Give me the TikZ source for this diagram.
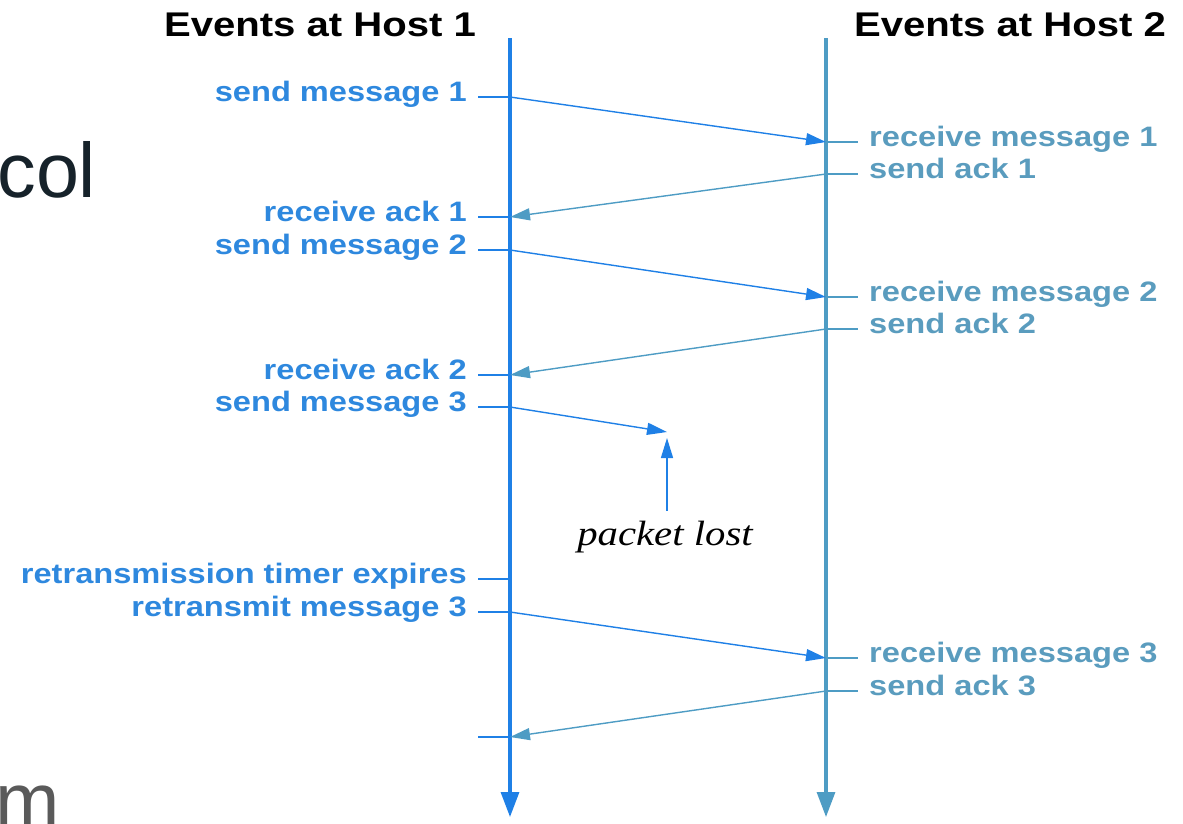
\documentclass[tikz,border=0pt]{standalone}
\usepackage{fontspec}
\setmainfont{Liberation Sans}
\newfontfamily\lostfont{Liberation Serif}
\usetikzlibrary{arrows.meta}

\definecolor{clrone}{HTML}{1F80E6}
\definecolor{clronetxt}{HTML}{2E88DE}
\definecolor{clrtwo}{HTML}{4E9CC4}
\definecolor{clrtwotxt}{HTML}{5A9CBE}
\definecolor{clrslide}{HTML}{16222A}
\definecolor{clrslidegray}{HTML}{5A5A5A}

\begin{document}
\begin{tikzpicture}[x=0.02cm,y=-0.02cm,
	title/.style={font=\fontsize{19.5}{22}\selectfont\bfseries,xscale=1.17,inner sep=0pt},
	evtone/.style={anchor=mid east,xshift=-0.2cm,text=clronetxt,font=\fontsize{16}{18}\selectfont\bfseries,xscale=1.16,inner sep=0pt},
	evttwo/.style={anchor=mid west,xshift=0.2cm,text=clrtwotxt,font=\fontsize{16}{18}\selectfont\bfseries,xscale=1.16,inner sep=0pt},
	lifeone/.style={clrone,line width=1.8pt,-{Triangle[length=0.5cm,width=0.36cm]}},
	lifetwo/.style={clrtwo,line width=1.8pt,-{Triangle[length=0.5cm,width=0.36cm]}},
	tickone/.style={clrone,line width=1.2pt},
	ticktwo/.style={clrtwo,line width=1.2pt},
	msgone/.style={clrone,line width=0.8pt,-{Triangle[length=0.4cm,width=0.24cm]}},
	msgtwo/.style={clrtwo,line width=0.8pt,-{Triangle[length=0.4cm,width=0.24cm]}},
	slide/.style={font=\fontsize{44}{48}\selectfont,inner sep=0pt}]

\def\hostA{510}
\def\hostB{826}
\def\lineTop{38}
\def\lineBot{817}
\def\tickW{32}

\useasboundingbox (0,0) rectangle (1183,823);
\clip (0,0) rectangle (1183,823);

% slide text behind the figure
\node[slide,anchor=base west,text=clrslide] (colword) at (-3,197) {col};
\node[slide,anchor=base west,text=clrslidegray] (mword) at (-5,827) {m};

% headings
\node[title] (hosttitleA) at (320,25) {Events at Host 1};
\node[title] (hosttitleB) at (1010,25) {Events at Host 2};

% time lines
\coordinate (h1top) at (\hostA,\lineTop);
\coordinate (h1bot) at (\hostA,\lineBot);
\coordinate (h2top) at (\hostB,\lineTop);
\coordinate (h2bot) at (\hostB,\lineBot);
\draw [lifeone] (h1top) -- (h1bot);
\draw [lifetwo] (h2top) -- (h2bot);

% events at host 1
\foreach \n/\y/\txt in {sm1/97/send message 1, ra1/217/receive ack 1,
		sm2/250/send message 2, ra2/375/receive ack 2, sm3/407/send message 3,
		rte/579/retransmission timer expires, rm3/612/retransmit message 3, ra3/737/}
{
	\coordinate (h1\n) at (\hostA,\y);
	\draw [tickone] (h1\n) -- ++(-\tickW,0) node [evtone] (lbl1\n) {\txt};
}

% events at host 2
\foreach \n/\y/\txt in {rm1/142/receive message 1, sa1/174/send ack 1,
		rm2/297/receive message 2, sa2/329/send ack 2,
		rm3/658/receive message 3, sa3/691/send ack 3}
{
	\coordinate (h2\n) at (\hostB,\y);
	\draw [ticktwo] (h2\n) -- ++(\tickW,0) node [evttwo] (lbl2\n) {\txt};
}

% messages and acks
\draw [msgone] (h1sm1) -- (h2rm1);
\draw [msgtwo] (h2sa1) -- (h1ra1);
\draw [msgone] (h1sm2) -- (h2rm2);
\draw [msgtwo] (h2sa2) -- (h1ra2);
\draw [msgone] (h1rm3) -- (h2rm3);
\draw [msgtwo] (h2sa3) -- (h1ra3);

% lost packet
\coordinate (lost) at (667,432);
\coordinate (lostmark) at (667,438);
\node [font=\lostfont\itshape\fontsize{20}{22}\selectfont,xscale=1.16,inner sep=0pt] (lostnote) at (665,537) {packet lost};
\draw [msgone] (h1sm3) -- (lost);
\draw [msgone,shorten <=0.2cm] (lostnote.north -| lostmark) -- (lostmark);

\end{tikzpicture}
\end{document}
